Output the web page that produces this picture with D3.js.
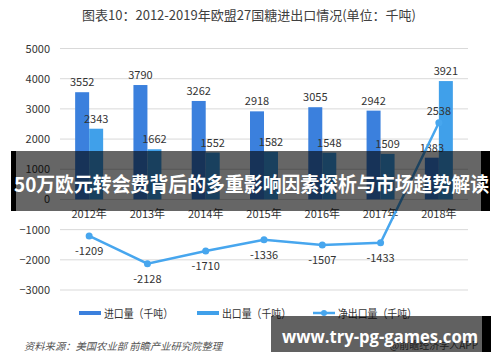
<!DOCTYPE html>
<html><head><meta charset="utf-8">
<script src="https://cdn.jsdelivr.net/npm/d3@7"></script>
<style>body{margin:0;background:#fff}svg{display:block}</style>
</head><body>
<svg id="c" width="500" height="362"></svg>
<script>
const years = ["2012年","2013年","2014年","2015年","2016年","2017年","2018年"];
const imports = [3552,3790,3262,2918,3055,2942,1383];
const exports_ = [2343,1662,1552,1582,1548,1509,3921];
const net = [-1209,-2128,-1710,-1336,-1507,-1433,2538];
const yTicks = [5000,4000,3000,2000,1000,0,-1000,-2000,-3000];
const legendLabels = ["进口量（千吨）","出口量（千吨）","净出口量（千吨）"];
const title = "图表10：2012-2019年欧盟27国糖进出口情况(单位：千吨)";
const source = "资料来源：美国农业部 前瞻产业研究院整理";
const credit = "@前瞻经济学人APP";
const overlayTitle = "50万欧元转会费背后的多重影响因素探析与市场趋势解读";
const overlayUrl = "www.try-pg-games.com";

const C_IMP = "#3b80dd", C_EXP = "#40a0ea", C_NET = "#47a6ee";
const svg = d3.select("#c");
const font = "'Microsoft YaHei','Noto Sans CJK SC','Noto Sans',sans-serif";

const x = d3.scaleBand().domain(years).range([60, 468]);
const y = d3.scaleLinear().domain([-3000, 5000]).range([290, 48.5]);
const bw = 14;

svg.append("text").attr("x", 249).attr("y", 20).attr("text-anchor", "middle")
  .attr("font-family", font).attr("font-size", 13).attr("fill", "#404040").text(title);

// gridlines
svg.append("g").selectAll("line").data(yTicks).join("line")
  .attr("x1", 60).attr("x2", 468).attr("y1", d => y(d)).attr("y2", d => y(d))
  .attr("stroke", "#d9d9d9").attr("stroke-width", 1);

// y axis labels
const ya = svg.append("g").attr("transform", "translate(60,0)")
  .call(d3.axisLeft(y).tickValues(yTicks).tickSize(0).tickPadding(10).tickFormat(d3.format("d")));
ya.select(".domain").remove();
ya.selectAll("text").attr("font-family", font).attr("font-size", 11).attr("fill", "#333");

// bars
svg.append("g").selectAll("rect").data(imports).join("rect")
  .attr("x", (d, i) => x(years[i]) + x.bandwidth() / 2 - bw).attr("width", bw)
  .attr("y", d => y(d)).attr("height", d => y(0) - y(d)).attr("fill", C_IMP);
svg.append("g").selectAll("rect").data(exports_).join("rect")
  .attr("x", (d, i) => x(years[i]) + x.bandwidth() / 2).attr("width", bw)
  .attr("y", d => y(d)).attr("height", d => y(0) - y(d)).attr("fill", C_EXP);

// bar labels
const lbl = (sel) => sel.attr("font-family", font).attr("font-size", 11).attr("fill", "#333").attr("text-anchor", "middle");
svg.append("g").selectAll("text").data(imports).join("text").call(lbl)
  .attr("x", (d, i) => x(years[i]) + x.bandwidth() / 2 - bw / 2).attr("y", d => y(d) - 6).text(d => d);
svg.append("g").selectAll("text").data(exports_).join("text").call(lbl)
  .attr("x", (d, i) => x(years[i]) + x.bandwidth() / 2 + bw / 2).attr("y", d => y(d) - 6).text(d => d);

// x labels
svg.append("g").selectAll("text").data(years).join("text").call(lbl)
  .attr("x", d => x(d) + x.bandwidth() / 2).attr("y", 218).text(d => d);

// net line
const cx = (d, i) => x(years[i]) + x.bandwidth() / 2;
svg.append("path").datum(net)
  .attr("d", d3.line().x(cx).y(d => y(d)))
  .attr("fill", "none").attr("stroke", C_NET).attr("stroke-width", 2.5);
svg.append("g").selectAll("circle").data(net).join("circle")
  .attr("cx", cx).attr("cy", d => y(d)).attr("r", 3.5).attr("fill", C_NET);
svg.append("g").selectAll("text").data(net).join("text").call(lbl)
  .attr("x", cx).attr("y", d => d > 0 ? y(d) - 8 : y(d) + 19).text(d => d);

// legend
const lg = svg.append("g").attr("font-family", font).attr("font-size", 11.5).attr("fill", "#333");
const lx = [79, 197, 313];
const lw = [69, 69, 79];
lg.append("rect").attr("x", lx[0]).attr("y", 311).attr("width", 22).attr("height", 4).attr("fill", C_IMP);
lg.append("rect").attr("x", lx[1]).attr("y", 311).attr("width", 22).attr("height", 4).attr("fill", C_EXP);
lg.append("line").attr("x1", lx[2]).attr("x2", lx[2] + 22).attr("y1", 313).attr("y2", 313).attr("stroke", C_NET).attr("stroke-width", 2.5);
lg.append("circle").attr("cx", lx[2] + 11).attr("cy", 313).attr("r", 3).attr("fill", C_NET);
lg.selectAll("text").data(legendLabels).join("text")
  .attr("x", (d, i) => lx[i] + 25).attr("y", 317.5)
  .attr("textLength", (d, i) => lw[i]).attr("lengthAdjust", "spacingAndGlyphs").text(d => d);

// source
svg.append("text").attr("x", 24).attr("y", 350).attr("font-family", font).attr("font-size", 10)
  .attr("font-style", "italic").attr("fill", "#555").attr("textLength", 198).attr("lengthAdjust", "spacingAndGlyphs").text(source);
svg.append("text").attr("x", 478).attr("y", 349).attr("text-anchor", "end").attr("font-family", font).attr("font-size", 10)
  .attr("fill", "#555").text(credit);

// overlay band
svg.append("rect").attr("x", 16).attr("y", 151).attr("width", 465).attr("height", 60).attr("fill", "rgba(0,0,0,0.6)");
svg.append("rect").attr("x", 11).attr("y", 151).attr("width", 5).attr("height", 60).attr("fill", "#000");
svg.append("rect").attr("x", 481).attr("y", 151).attr("width", 9).attr("height", 60).attr("fill", "#000");
svg.append("text").attr("x", 14).attr("y", 192).attr("font-family", font).attr("font-weight", "bold")
  .attr("font-size", 20).attr("fill", "#fff").attr("textLength", 475).attr("lengthAdjust", "spacingAndGlyphs").text(overlayTitle);

// overlay bottom
svg.append("rect").attr("x", 271).attr("y", 316).attr("width", 211).attr("height", 36).attr("fill", "rgba(0,0,0,0.62)");
svg.append("rect").attr("x", 482).attr("y", 316).attr("width", 9).attr("height", 36).attr("fill", "#000");
svg.append("text").attr("x", 282).attr("y", 343).attr("font-family", "'Open Sans',sans-serif").attr("font-weight", "bold")
  .attr("font-size", 18).attr("fill", "#fff").attr("textLength", 196).attr("lengthAdjust", "spacingAndGlyphs").text(overlayUrl);
</script>
</body></html>
